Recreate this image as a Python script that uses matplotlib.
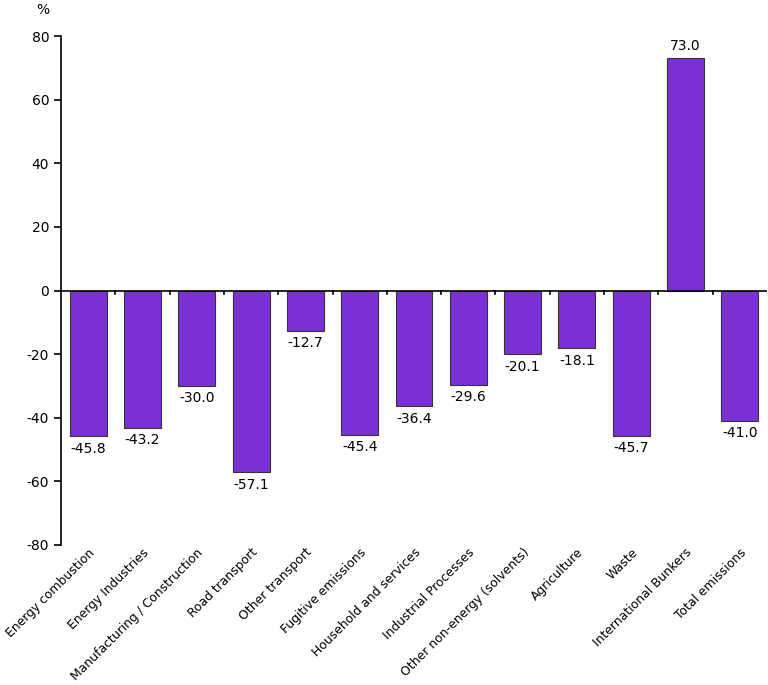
import matplotlib
matplotlib.use("Agg")
import matplotlib.pyplot as plt

categories = ["Energy combustion", "Energy Industries", "Manufacturing / Construction",
              "Road transport", "Other transport", "Fugitive emissions",
              "Household and services", "Industrial Processes",
              "Other non-energy (solvents)", "Agriculture", "Waste",
              "International Bunkers", "Total emissions"]
values = [-45.8, -43.2, -30.0, -57.1, -12.7, -45.4, -36.4, -29.6, -20.1, -18.1, -45.7, 73.0, -41.0]
yticks = [-80, -60, -40, -20, 0, 20, 40, 60, 80]

plt.rcParams['font.family'] = ['DejaVu Sans']
plt.rcParams['axes.unicode_minus'] = False
fig = plt.figure(figsize=(7.68, 6.85), dpi=100)
ax = fig.add_axes([0.0794, 0.2044, 0.9193, 0.743])

x = list(range(len(categories)))
ax.bar(x, values, width=0.68, color="#7b30d6", edgecolor="#333333", linewidth=0.8, zorder=2)

for xi, v in zip(x, values):
    if v < 0:
        ax.annotate(f"{v:.1f}", (xi, v), xytext=(0, -4), textcoords="offset points",
                    ha="center", va="top", fontsize=10)
    else:
        ax.annotate(f"{v:.1f}", (xi, v), xytext=(0, 4), textcoords="offset points",
                    ha="center", va="bottom", fontsize=10)

ax.set_xlim(-0.5, len(categories) - 0.5)
ax.set_ylim(-80, 80)
ax.set_yticks(yticks)
ax.tick_params(axis="y", labelsize=10, length=5, width=1.2)

for s in ["top", "right", "bottom"]:
    ax.spines[s].set_visible(False)
ax.spines["left"].set_linewidth(1.2)
ax.axhline(0, color="black", linewidth=1.2, zorder=3)

# tick marks between categories at zero line
for t in [i + 0.5 for i in range(len(categories) - 1)]:
    ax.plot([t, t], [0, -1.2], color="black", linewidth=1.2, zorder=3, clip_on=False)

ax.set_xticks([])
for xi, c in zip(x, categories):
    ax.text(xi + 0.0, -80.3, c, rotation=45, ha="right", va="top",
            rotation_mode="anchor", fontsize=8.9)

fig.text(36 / 768, 1 - 10 / 685, "%", fontsize=10, ha="left", va="center")

fig.savefig("out.png", dpi=100)
